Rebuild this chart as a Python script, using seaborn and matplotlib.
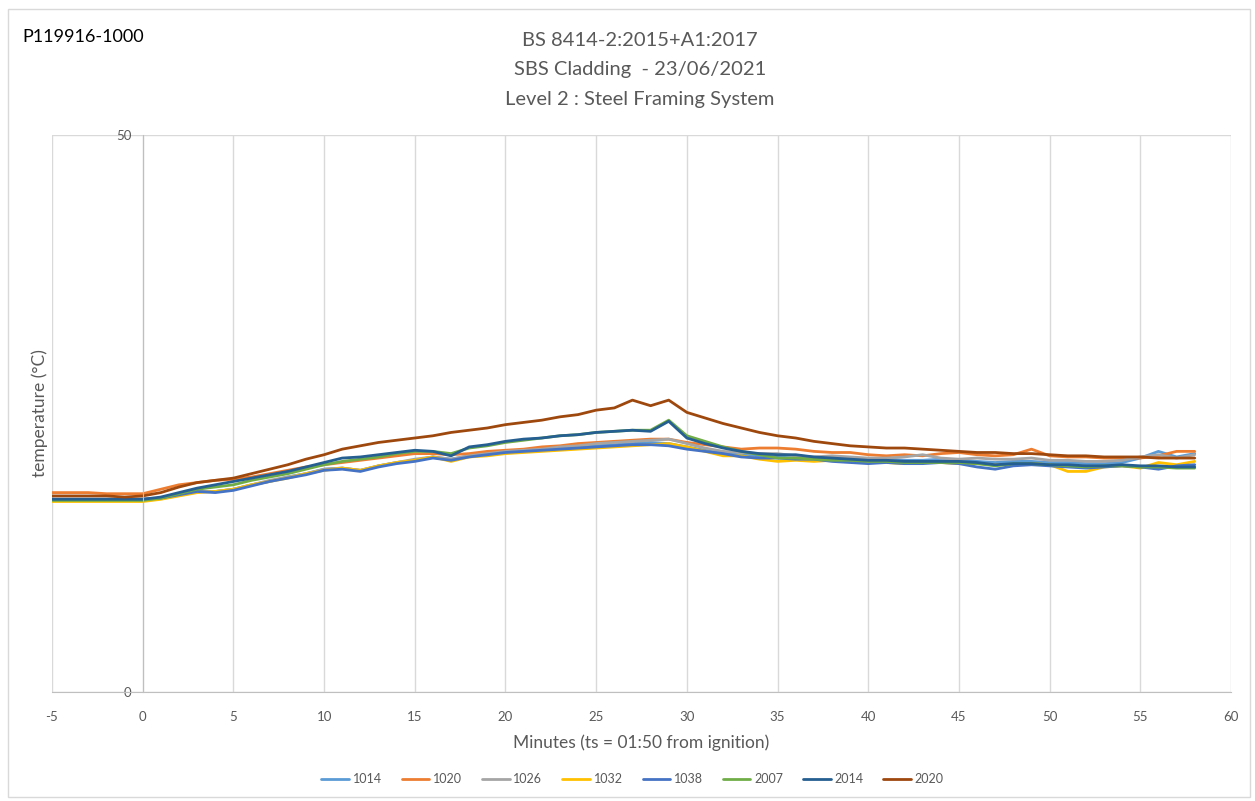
import pandas as pd
import matplotlib.pyplot as plt
import seaborn as sns
from matplotlib.patches import Rectangle

sns.set_style("white")
plt.rcParams['font.family'] = ['Lato', 'DejaVu Sans']
plt.rcParams['axes.unicode_minus'] = False

# minutes from ts, one reading per minute
minutes = list(range(-5, 59))

t1014 = [17.3, 17.3, 17.3, 17.3, 17.3, 17.3, 17.4, 17.7, 18.0, 18.0, 18.2, 18.6, 18.9, 19.3, 19.6, 20.0,
         20.1, 19.9, 20.3, 20.6, 20.8, 21.1, 20.9, 21.2, 21.4, 21.6, 21.7, 21.8, 21.9, 22.0, 22.1, 22.2,
         22.3, 22.4, 22.3, 22.0, 21.7, 21.4, 21.3, 21.2, 21.1, 21.0, 21.0, 21.1, 20.9, 20.9, 20.9, 20.8,
         20.8, 20.9, 20.8, 20.7, 20.6, 20.7, 20.7, 20.6, 20.6, 20.5, 20.5, 20.6, 21.0, 21.6, 21.1, 21.4]
t1020 = [17.9, 17.9, 17.9, 17.8, 17.8, 17.8, 18.2, 18.6, 18.8, 19.0, 19.1, 19.3, 19.6, 19.9, 20.2, 20.4,
         20.6, 20.8, 21.0, 21.2, 21.4, 21.4, 21.3, 21.4, 21.6, 21.7, 21.8, 22.0, 22.1, 22.3, 22.4, 22.5,
         22.6, 22.7, 22.7, 22.4, 22.2, 22.0, 21.8, 21.9, 21.9, 21.8, 21.6, 21.5, 21.5, 21.3, 21.2, 21.3,
         21.2, 21.4, 21.5, 21.3, 21.2, 21.3, 21.8, 21.2, 21.1, 21.1, 21.0, 21.0, 21.0, 21.2, 21.6, 21.6]
t1026 = [17.3, 17.3, 17.3, 17.3, 17.3, 17.3, 17.4, 17.7, 18.0, 18.0, 18.2, 18.6, 19.0, 19.3, 19.6, 20.0,
         20.1, 19.9, 20.3, 20.6, 20.9, 21.1, 20.9, 21.2, 21.4, 21.6, 21.7, 21.8, 22.0, 22.1, 22.3, 22.4,
         22.5, 22.6, 22.7, 22.3, 21.9, 21.6, 21.5, 21.4, 21.4, 21.2, 21.1, 21.2, 21.1, 21.0, 21.0, 21.1,
         21.3, 21.0, 20.9, 21.0, 20.9, 20.9, 21.0, 20.8, 20.8, 20.7, 20.7, 20.8, 21.1, 21.3, 21.0, 21.3]
t1032 = [17.1, 17.1, 17.1, 17.1, 17.1, 17.1, 17.3, 17.6, 17.9, 18.0, 18.2, 18.6, 18.9, 19.2, 19.6, 19.9,
         20.1, 19.9, 20.3, 20.6, 20.8, 21.1, 20.7, 21.1, 21.2, 21.4, 21.5, 21.6, 21.7, 21.8, 21.9, 22.0,
         22.1, 22.2, 22.3, 22.0, 21.6, 21.2, 21.2, 20.9, 20.7, 20.8, 20.7, 20.8, 20.7, 20.7, 20.6, 20.5,
         20.6, 20.6, 20.5, 20.5, 20.4, 20.4, 20.5, 20.4, 19.8, 19.8, 20.2, 20.3, 20.1, 20.6, 20.4, 20.7]
t1038 = [17.3, 17.3, 17.3, 17.3, 17.3, 17.3, 17.4, 17.7, 18.0, 17.9, 18.1, 18.5, 18.9, 19.2, 19.5, 19.9,
         20.0, 19.8, 20.2, 20.5, 20.7, 21.0, 20.8, 21.1, 21.3, 21.5, 21.6, 21.7, 21.8, 21.9, 22.0, 22.1,
         22.2, 22.2, 22.1, 21.8, 21.6, 21.4, 21.1, 21.0, 21.0, 20.9, 20.9, 20.7, 20.6, 20.5, 20.6, 20.5,
         20.5, 20.6, 20.5, 20.2, 20.0, 20.3, 20.4, 20.3, 20.2, 20.1, 20.2, 20.3, 20.2, 20.0, 20.3, 20.4]
t2007 = [17.2, 17.2, 17.2, 17.2, 17.2, 17.2, 17.4, 17.8, 18.2, 18.4, 18.6, 19.0, 19.3, 19.6, 20.0, 20.4,
         20.7, 20.9, 21.1, 21.4, 21.6, 21.6, 21.4, 21.9, 22.1, 22.4, 22.6, 22.8, 23.0, 23.1, 23.3, 23.4,
         23.5, 23.5, 24.4, 23.0, 22.5, 22.0, 21.6, 21.3, 21.0, 21.0, 20.9, 20.8, 20.8, 20.7, 20.7, 20.6,
         20.6, 20.6, 20.6, 20.5, 20.3, 20.5, 20.5, 20.4, 20.3, 20.2, 20.3, 20.3, 20.2, 20.2, 20.1, 20.1]
t2014 = [17.3, 17.3, 17.3, 17.3, 17.3, 17.3, 17.5, 17.9, 18.3, 18.6, 18.9, 19.2, 19.5, 19.8, 20.2, 20.6,
         21.0, 21.1, 21.3, 21.5, 21.7, 21.6, 21.2, 22.0, 22.2, 22.5, 22.7, 22.8, 23.0, 23.1, 23.3, 23.4,
         23.5, 23.4, 24.3, 22.8, 22.3, 21.9, 21.6, 21.4, 21.3, 21.3, 21.1, 21.0, 20.9, 20.8, 20.8, 20.7,
         20.7, 20.7, 20.7, 20.6, 20.4, 20.5, 20.5, 20.4, 20.4, 20.3, 20.3, 20.4, 20.3, 20.3, 20.2, 20.2]
t2020 = [17.6, 17.6, 17.6, 17.6, 17.5, 17.6, 17.9, 18.4, 18.8, 19.0, 19.2, 19.6, 20.0, 20.4, 20.9, 21.3,
         21.8, 22.1, 22.4, 22.6, 22.8, 23.0, 23.3, 23.5, 23.7, 24.0, 24.2, 24.4, 24.7, 24.9, 25.3, 25.5,
         26.2, 25.7, 26.2, 25.1, 24.6, 24.1, 23.7, 23.3, 23.0, 22.8, 22.5, 22.3, 22.1, 22.0, 21.9, 21.9,
         21.8, 21.7, 21.6, 21.5, 21.5, 21.4, 21.4, 21.3, 21.2, 21.2, 21.1, 21.1, 21.1, 21.0, 21.0, 21.0]

sensors = ["1014", "1020", "1026", "1032", "1038", "2007", "2014", "2020"]
series = [t1014, t1020, t1026, t1032, t1038, t2007, t2014, t2020]
colors = ["#5B9BD5", "#ED7D31", "#A5A5A5", "#FFC000", "#4472C4", "#70AD47", "#255E91", "#9E480E"]

rows = []
for name, vals in zip(sensors, series):
    for m, v in zip(minutes, vals):
        rows.append({"Minutes": m, "Temp": v, "Sensor": name})
df = pd.DataFrame(rows)

fig = plt.figure(figsize=(12.55, 8.01), dpi=100)
ax = fig.add_axes([52 / 1255, 1 - 692 / 801, (1231 - 52) / 1255, (692 - 135) / 801])

sns.lineplot(data=df, x="Minutes", y="Temp", hue="Sensor", hue_order=sensors,
             palette=dict(zip(sensors, colors)), linewidth=2, ax=ax, legend=False)

ax.set_xlim(-5, 60)
ax.set_ylim(0, 50)
ax.set_xticks(range(-5, 61, 5))
ax.set_yticks([0, 50])
ax.grid(True, color="#D9D9D9", linewidth=1)
ax.set_axisbelow(True)
for s in ["top", "right"]:
    ax.spines[s].set_visible(False)
ax.spines["left"].set_position(("data", 0))
ax.spines["left"].set_color("#BFBFBF")
ax.spines["bottom"].set_color("#BFBFBF")
ax.tick_params(axis="both", length=0, labelsize=9.5, colors="#595959")
ax.tick_params(axis="x", pad=14)
ax.tick_params(axis="y", pad=8)
ax.set_xlabel("Minutes (ts = 01:50 from ignition)", fontsize=12.5, color="#595959", labelpad=8)
ax.set_ylabel("")
fig.text(40 / 1255, 1 - 413 / 801, "temperature (°C)", rotation=90, fontsize=12.5,
         color="#595959", ha="center", va="center")

fig.text(0.51, 1 - 40 / 801, "BS 8414-2:2015+A1:2017", fontsize=14.5, color="#595959", ha="center", va="center")
fig.text(0.51, 1 - 70 / 801, "SBS Cladding  - 23/06/2021", fontsize=14.5, color="#595959", ha="center", va="center")
fig.text(0.51, 1 - 100 / 801, "Level 2 : Steel Framing System", fontsize=14.5, color="#595959", ha="center", va="center")
fig.text(22 / 1255, 1 - 37 / 801, "P119916-1000", fontsize=13, color="black", ha="left", va="center")

handles = [plt.Line2D([], [], color=c, linewidth=2) for c in colors]
fig.legend(handles, sensors, loc="center", bbox_to_anchor=(0.504, 1 - 779 / 801), ncol=8,
           frameon=False, fontsize=9, handlelength=2.2, columnspacing=1.6, handletextpad=0.3,
           labelcolor="#595959")

fig.patches.append(Rectangle((8 / 1255, 4 / 801), 1242 / 1255, 788 / 801, transform=fig.transFigure,
                             fill=False, edgecolor="#D9D9D9", linewidth=1))

fig.savefig("out.png", dpi=100)
